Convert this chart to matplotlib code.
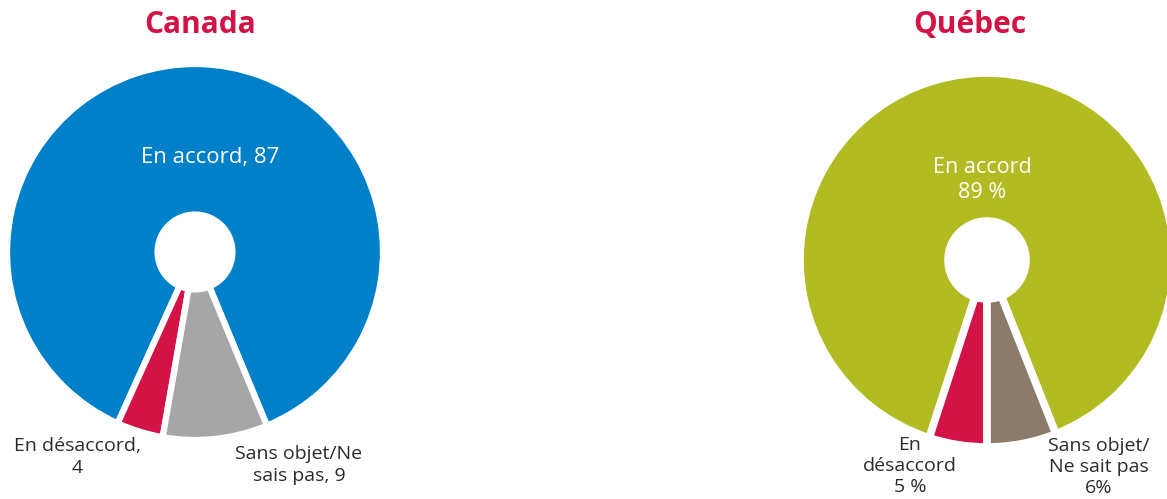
import matplotlib
matplotlib.use("Agg")
import matplotlib.pyplot as plt

plt.rcParams['font.family'] = ['Open Sans', 'DejaVu Sans']

# données
canada_labels = ['En accord', 'En désaccord', 'Sans objet/Ne sais pas']
canada_values = [87, 4, 9]
canada_colors = ['#0080c9', '#d31245', '#a6a6a6']

quebec_labels = ['En accord', 'En désaccord', 'Sans objet/Ne sait pas']
quebec_values = [89, 5, 6]
quebec_colors = ['#b2bc22', '#d31245', '#8b7b6a']

W, H = 1167, 499
fig = plt.figure(figsize=(W / 100, H / 100), dpi=100)
txt = '#2b2b2b'
red = '#d31245'


def pie_axes(cx, cy, r):
    # axes carré en pixels centré sur (cx, cy)
    return fig.add_axes([(cx - r) / W, (H - cy - r) / H, 2 * r / W, 2 * r / H])


def donut(ax, values, colors, start, hole, lw):
    ax.pie(values, colors=colors, startangle=start, counterclock=True,
           wedgeprops=dict(edgecolor='white', linewidth=lw))
    ax.add_patch(plt.Circle((0, 0), hole, color='white', zorder=5))
    ax.set_xlim(-1, 1)
    ax.set_ylim(-1, 1)
    ax.axis('off')


# Canada
ax1 = pie_axes(195, 252, 188)
donut(ax1, canada_values, canada_colors, 292.5, 0.212, 4.5)
fig.text(200 / W, 1 - 25 / H, 'Canada', color=red, fontsize=21.5, fontweight='bold',
         ha='center', va='center')
fig.text(210 / W, 1 - 157 / H, '%s, %d' % (canada_labels[0], canada_values[0]),
         color='white', fontsize=16, ha='center', va='center')
fig.text(77 / W, 1 - 457 / H, 'En désaccord,\n%d' % canada_values[1], color=txt,
         fontsize=14, ha='center', va='center', linespacing=1.25)
fig.text(299 / W, 1 - 465 / H, 'Sans objet/Ne\nsais pas, %d' % canada_values[2],
         color=txt, fontsize=14, ha='center', va='center', linespacing=1.25)

# Québec
ax2 = pie_axes(987, 260, 187)
donut(ax2, quebec_values, quebec_colors, 270 + 3.6 * quebec_values[2], 0.225, 5.5)
fig.text(970 / W, 1 - 25 / H, 'Québec', color=red, fontsize=21.5, fontweight='bold',
         ha='center', va='center')
fig.text(982 / W, 1 - 180 / H, '%s\n%d %%' % (quebec_labels[0], quebec_values[0]),
         color='white', fontsize=15.5, ha='center', va='center', linespacing=1.25)
fig.text(910 / W, 1 - 466 / H, 'En\ndésaccord\n%d %%' % quebec_values[1], color=txt,
         fontsize=14, ha='center', va='center', linespacing=1.22)
fig.text(1099 / W, 1 - 467 / H, 'Sans objet/\nNe sait pas\n%d%%' % quebec_values[2],
         color=txt, fontsize=14, ha='center', va='center', linespacing=1.22)

fig.savefig('out.png', dpi=100, facecolor='white')
